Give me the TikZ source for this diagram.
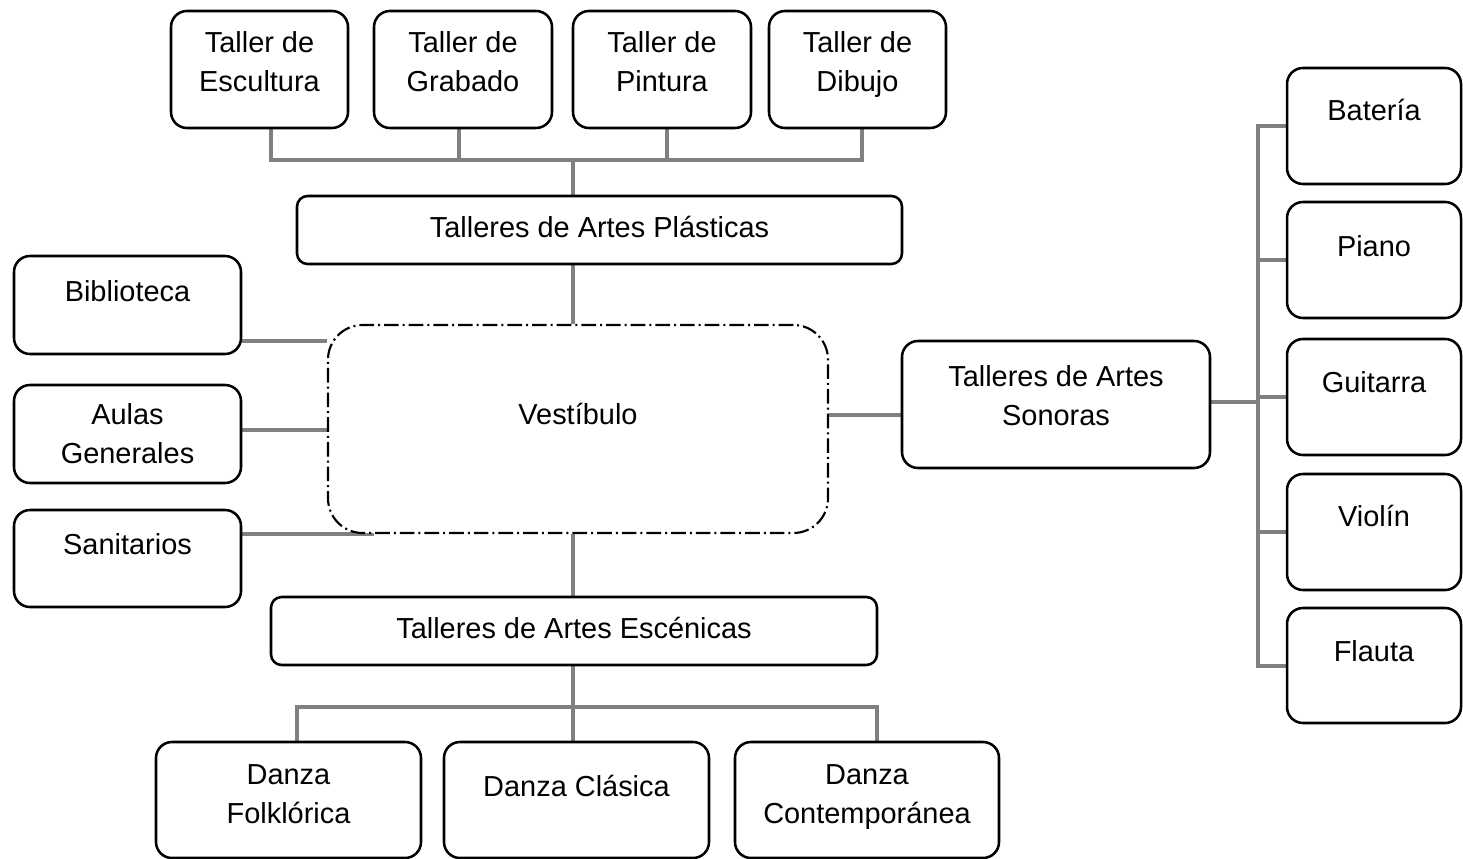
\documentclass[tikz,border=0pt]{standalone}
\usepackage{fontspec}
\setmainfont{Liberation Sans}
\usetikzlibrary{backgrounds}
\definecolor{linegray}{HTML}{808080}
\begin{document}
\begin{tikzpicture}[x=0.75pt,y=-0.75pt,
  box/.style n args={2}{draw, fill=white, line width=1.9pt, rounded corners=12pt,
    minimum width=#1*0.75pt, minimum height=#2*0.75pt, inner sep=0pt},
  txt/.style={font=\fontsize{21.7}{29.25}\selectfont, align=center, inner sep=0pt},
  conn/.style={draw=linegray, line width=3pt},
  vesstyle/.style={draw, fill=white, line width=1.6pt, rounded corners=26pt,
    dash pattern=on 11pt off 3pt on 1.5pt off 3pt,
    minimum width=500*0.75pt, minimum height=208*0.75pt, inner sep=0pt}]
\useasboundingbox (0,0) rectangle (1463,859);

% top workshops
\node[box={177}{117}, label={[txt,name=escT,yshift=5.6pt]center:Taller de\\Escultura}] (esc) at (259.5,69.5) {};
\node[box={178}{117}, label={[txt,name=graT,yshift=5.6pt]center:Taller de\\Grabado}] (gra) at (463,69.5) {};
\node[box={178}{117}, label={[txt,name=pinT,yshift=5.6pt]center:Taller de\\Pintura}] (pin) at (662,69.5) {};
\node[box={177}{117}, label={[txt,name=dibT,yshift=4pt]center:Taller de\\Dibujo}] (dib) at (857.5,69.5) {};

\node[box={605}{68}, rounded corners=8pt, label={[txt,name=plaT,yshift=2pt]center:Talleres de Artes Plásticas}] (pla) at (599.5,230) {};

% left
\node[box={227}{98}, label={[txt,name=bibT,yshift=10.5pt]center:Biblioteca}] (bib) at (127.5,305) {};
\node[box={227}{98}, label={[txt,name=aulT]center:Aulas\\Generales}] (aul) at (127.5,434) {};
\node[box={227}{97}, label={[txt,name=sanT,yshift=10.9pt]center:Sanitarios}] (san) at (127.5,558.5) {};

% centre
\node[vesstyle, label={[txt,name=vesT,yshift=11pt]center:Vestíbulo}] (ves) at (578,429) {};

\node[box={308}{127}, label={[txt,name=sonT,yshift=7pt]center:Talleres de Artes\\Sonoras}] (son) at (1056,404.5) {};

\node[box={606}{68}, rounded corners=8pt, label={[txt,name=esceT,yshift=2pt]center:Talleres de Artes Escénicas}] (esce) at (574,631) {};

% dances
\node[box={265}{116}, label={[txt,name=dfoT,yshift=4.5pt]center:Danza\\Folklórica}] (dfo) at (288.5,800) {};
\node[box={265}{116}, label={[txt,name=dclT,yshift=10.5pt]center:Danza Clásica}] (dcl) at (576.5,800) {};
\node[box={264}{116}, label={[txt,name=dcoT,yshift=2.2pt]center:Danza\\Contemporánea}] (dco) at (867,800) {};

% instruments
\node[box={174}{116}, label={[txt,name=batT,yshift=12pt]center:Batería}] (bat) at (1374,126) {};
\node[box={174}{116}, label={[txt,name=piaT,yshift=10.5pt]center:Piano}] (pia) at (1374,260) {};
\node[box={174}{116}, label={[txt,name=guiT,yshift=11pt]center:Guitarra}] (gui) at (1374,397) {};
\node[box={174}{116}, label={[txt,name=vioT,yshift=12pt]center:Violín}] (vio) at (1374,532) {};
\node[box={174}{115}, label={[txt,name=flaT,yshift=11pt]center:Flauta}] (fla) at (1374,665.5) {};

\coordinate (pb) at (573,160);
\coordinate (eb) at (573,707);
\coordinate (rb) at (1258,402);

\begin{scope}[on background layer]
  % top tree
  \draw[conn] ([xshift=8.6pt]esc.south) |- (pb) -| ([xshift=3.4pt]dib.south);
  \draw[conn] ([xshift=-3pt]gra.south) -- ([xshift=-3pt]gra.south |- pb);
  \draw[conn] ([xshift=3.75pt]pin.south) -- ([xshift=3.75pt]pin.south |- pb);
  \draw[conn] (pb) -- (pb |- pla.north);
  \draw[conn] (pb |- pla.south) -- (pb |- ves.north);
  % left
  \draw[conn] ([yshift=-27pt]bib.east) -- ([yshift=-27pt]bib.east -| ves.west);
  \draw[conn] ([yshift=3pt]aul.east) -- ([yshift=3pt]aul.east -| ves.west);
  \draw[conn] (san.east |- ves.south) -- ([xshift=35pt]ves.south west);
  % bottom tree
  \draw[conn] (pb |- ves.south) -- (pb |- esce.north);
  \draw[conn] (pb |- esce.south) -- (pb |- dcl.north);
  \draw[conn] ([xshift=6.4pt]dfo.north) |- (eb) -| ([xshift=7.5pt]dco.north);
  % right
  \draw[conn] ([yshift=-7.9pt]son.west -| ves.east) -- ([yshift=-7.9pt]son.west);
  \draw[conn] (son.east |- rb) -- (rb);
  \draw[conn] (bat.west) -| (rb) |- (fla.west);
  \draw[conn] (pia.west) -- (pia.west -| rb);
  \draw[conn] (gui.west) -- (gui.west -| rb);
  \draw[conn] (vio.west) -- (vio.west -| rb);
\end{scope}
\end{tikzpicture}
\end{document}
